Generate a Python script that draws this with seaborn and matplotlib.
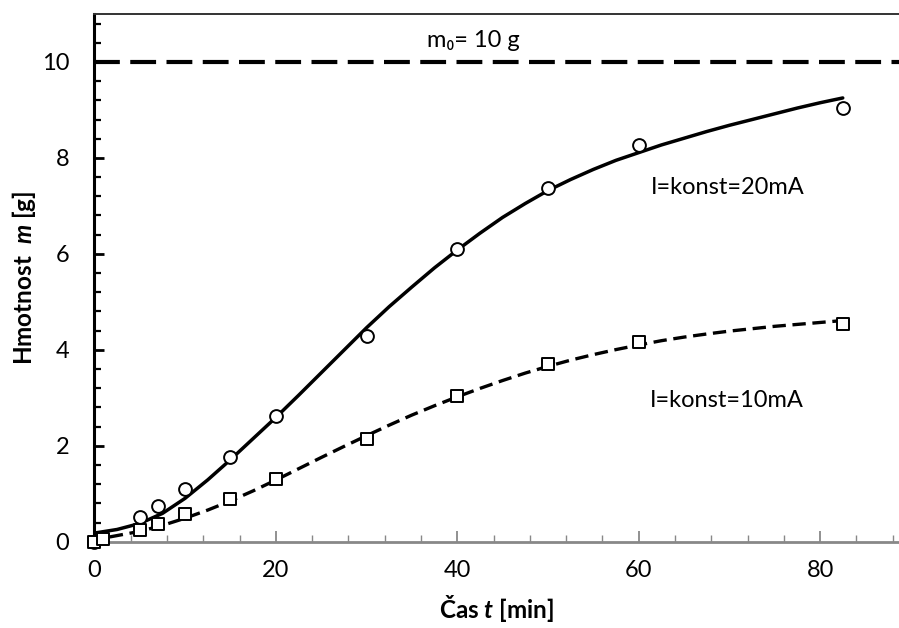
import numpy as np
import pandas as pd
import matplotlib
matplotlib.use("Agg")
import matplotlib.pyplot as plt
import seaborn as sns

# ---- measured data points ----
t_20mA = [0, 5, 7, 10, 15, 20, 30, 40, 50, 60, 82.5]
m_20mA = [0.0, 0.51, 0.74, 1.10, 1.76, 2.62, 4.28, 6.10, 7.38, 8.27, 9.04]
t_10mA = [0, 1, 5, 7, 10, 15, 20, 30, 40, 50, 60, 82.5]
m_10mA = [0.0, 0.05, 0.24, 0.37, 0.57, 0.89, 1.30, 2.15, 3.04, 3.70, 4.17, 4.54]

# ---- model curves ----
curve20_t = [0, 2.5, 5, 7.5, 10, 12.5, 15, 17.5, 20, 22.5, 25, 27.5, 30, 32.5, 35, 37.5,
             40, 42.5, 45, 47.5, 50, 52.5, 55, 57.5, 60, 62.5, 65, 67.5, 70, 72.5, 75,
             77.5, 80, 82.5]
curve20_m = [0.18, 0.255, 0.38, 0.59, 0.905, 1.29, 1.71, 2.15, 2.59, 3.05, 3.52, 3.99,
             4.46, 4.90, 5.31, 5.71, 6.08, 6.43, 6.76, 7.05, 7.32, 7.55, 7.76, 7.95, 8.11,
             8.27, 8.41, 8.55, 8.68, 8.80, 8.92, 9.04, 9.15, 9.25]
curve10_t = [1.7, 5, 7.5, 10, 12.5, 15, 17.5, 20, 22.5, 25, 27.5, 30, 32.5, 35, 37.5, 40,
             42.5, 45, 47.5, 50, 52.5, 55, 57.5, 60, 62.5, 65, 67.5, 70, 72.5, 75, 77.5,
             80, 82.5]
curve10_m = [0.10, 0.215, 0.34, 0.49, 0.66, 0.85, 1.06, 1.285, 1.52, 1.755, 1.985, 2.21,
             2.43, 2.64, 2.835, 3.02, 3.195, 3.36, 3.515, 3.655, 3.785, 3.90, 4.005, 4.10,
             4.19, 4.265, 4.33, 4.39, 4.44, 4.49, 4.53, 4.57, 4.61]

m0 = 10
x_ticks = [0, 20, 40, 60, 80]
y_ticks = [0, 2, 4, 6, 8, 10]
label_20 = "I=konst=20mA"
label_10 = "I=konst=10mA"
label_m0 = "m\u2080= 10 g"

sns.set_theme(style="white")
plt.rcParams['font.family'] = ['Lato', 'DejaVu Sans']
plt.rcParams['mathtext.fontset'] = 'custom'
plt.rcParams['mathtext.it'] = 'Lato:italic:bold'
plt.rcParams['mathtext.rm'] = 'Lato:bold'

df20 = pd.DataFrame({"t": t_20mA, "m": m_20mA})
df10 = pd.DataFrame({"t": t_10mA, "m": m_10mA})
c20 = pd.DataFrame({"t": curve20_t, "m": curve20_m})
c10 = pd.DataFrame({"t": curve10_t, "m": curve10_m})

fig = plt.figure(figsize=(8.99, 6.28), dpi=100)
ax = fig.add_axes([0.105, 0.1374, 0.895, 0.8403])

sns.lineplot(data=c20, x="t", y="m", estimator=None, sort=False, color="black",
             lw=2.5, ax=ax, zorder=2)
sns.lineplot(data=c10, x="t", y="m", estimator=None, sort=False, color="black",
             lw=2.4, ax=ax, zorder=2)
ax.lines[-1].set_dashes((4.0, 2.0))
for ln in ax.lines:
    ln.set_solid_joinstyle("round")
    ln.set_dash_joinstyle("round")

sns.scatterplot(data=df20, x="t", y="m", marker="o", s=85, facecolor="white",
                edgecolor="black", linewidth=1.4, ax=ax, zorder=3, clip_on=False)
sns.scatterplot(data=df10, x="t", y="m", marker="s", s=80, facecolor="white",
                edgecolor="black", linewidth=1.4, ax=ax, zorder=3, clip_on=False)

ax.axhline(m0, color="black", lw=3, dashes=(6.2, 2.5), zorder=2)

ax.set_xlim(0, 88.7)
ax.set_ylim(0, 11)
ax.set_xticks(x_ticks)
ax.set_yticks(y_ticks)
ax.set_xticks(np.arange(0, 89, 4), minor=True)
ax.set_yticks(np.arange(0, 11.01, 0.4), minor=True)

ax.tick_params(axis="x", which="both", direction="in", colors="#888888",
               labelcolor="black", labelsize=17, pad=13)
ax.tick_params(axis="x", which="major", length=8, width=1.3, bottom=True)
ax.tick_params(axis="x", which="minor", length=5, width=1.0, bottom=True)
ax.tick_params(axis="y", which="both", direction="in", colors="black",
               labelcolor="black", labelsize=17, pad=18)
ax.tick_params(axis="y", which="major", length=7, width=2, left=True)
ax.tick_params(axis="y", which="minor", length=5, width=1.6, left=True)

for s in ["top", "left", "bottom"]:
    ax.spines[s].set_visible(True)
ax.spines["right"].set_visible(False)
ax.spines["top"].set_color("#333333")
ax.spines["top"].set_linewidth(1.4)
ax.spines["left"].set_color("black")
ax.spines["left"].set_linewidth(2.2)
ax.spines["bottom"].set_color("#888888")
ax.spines["bottom"].set_linewidth(2)

ax.set_xlabel("\u010cas $t$ [min]", fontsize=17.5, fontweight="bold", color="black", labelpad=9)
ax.set_ylabel("Hmotnost  $m$ [g]", fontsize=17.5, fontweight="bold", color="black", labelpad=3)

ax.text(61.4, 7.39, label_20, fontsize=17, va="center", ha="left", color="black")
ax.text(61.2, 2.95, label_10, fontsize=17, va="center", ha="left", color="black")
ax.text(36.7, 10.45, label_m0, fontsize=17, va="center", ha="left", color="black")

fig.savefig("out.png", dpi=100)
